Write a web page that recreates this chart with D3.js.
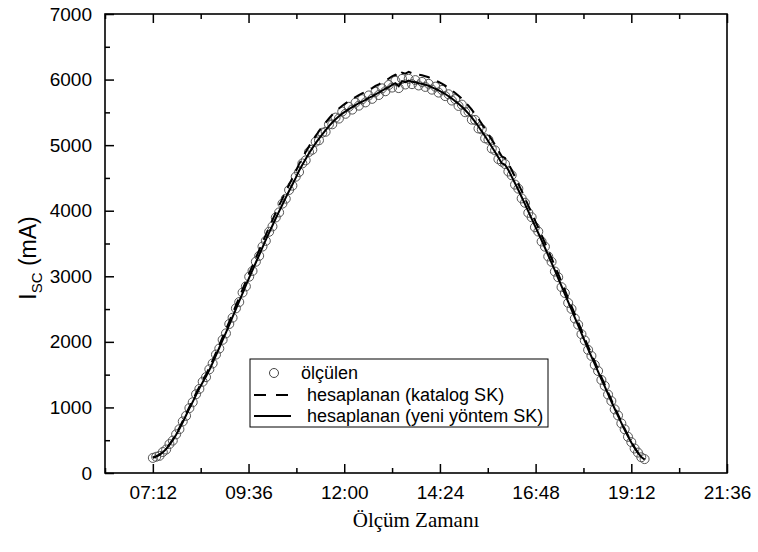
<!DOCTYPE html>
<html>
<head>
<meta charset="utf-8">
<script src="https://cdn.jsdelivr.net/npm/d3@7"></script>
<style>
  html, body { margin: 0; padding: 0; background: #fff; }
  svg { display: block; }
</style>
</head>
<body>
<svg id="chart" width="758" height="552"></svg>
<script>
// Sample times (HH:MM), one reading every 5 minutes
const times = [
  "07:12","07:17","07:22","07:27","07:32","07:37","07:42","07:47","07:52","07:57",
  "08:02","08:07","08:12","08:17","08:22","08:27","08:32","08:37","08:42","08:47","08:52","08:57",
  "09:02","09:07","09:12","09:17","09:22","09:27","09:32","09:37","09:42","09:47","09:52","09:57",
  "10:02","10:07","10:12","10:17","10:22","10:27","10:32","10:37","10:42","10:47","10:52","10:57",
  "11:02","11:07","11:12","11:17","11:22","11:27","11:32","11:37","11:42","11:47","11:52","11:57",
  "12:02","12:07","12:12","12:17","12:22","12:27","12:32","12:37","12:42","12:47","12:52","12:57",
  "13:02","13:07","13:12","13:17","13:22","13:27","13:32","13:37","13:42","13:47","13:52","13:57",
  "14:02","14:07","14:12","14:17","14:22","14:27","14:32","14:37","14:42","14:47","14:52","14:57",
  "15:02","15:07","15:12","15:17","15:22","15:27","15:32","15:37","15:42","15:47","15:52","15:57",
  "16:02","16:07","16:12","16:17","16:22","16:27","16:32","16:37","16:42","16:47","16:52","16:57",
  "17:02","17:07","17:12","17:17","17:22","17:27","17:32","17:37","17:42","17:47","17:52","17:57",
  "18:02","18:07","18:12","18:17","18:22","18:27","18:32","18:37","18:42","18:47","18:52","18:57",
  "19:02","19:07","19:12","19:17","19:22","19:27","19:32"
];

// Measured short-circuit current, mA
const measured = [
  230,248,262,320,358,441,494,590,668,786,
  872,990,1079,1201,1282,1392,1462,1581,1671,1806,1898,2031,
  2129,2272,2368,2511,2607,2752,2846,2994,3081,3222,3311,3453,
  3540,3679,3760,3897,3974,4108,4183,4316,4382,4518,4590,4721,
  4768,4896,4930,5052,5074,5190,5204,5316,5318,5420,5405,5512,
  5478,5585,5542,5648,5602,5700,5652,5758,5706,5812,5764,5866,
  5822,5918,5878,5980,5870,6010,5925,6012,5930,5992,5910,5964,
  5888,5935,5846,5892,5801,5842,5748,5776,5680,5702,5598,5618,
  5502,5512,5388,5384,5254,5240,5104,5082,4948,4920,4786,4748,
  4712,4598,4541,4398,4336,4188,4121,3968,3901,3748,3682,3530,
  3452,3302,3221,3072,2986,2834,2745,2594,2503,2356,2262,2117,
  2021,1878,1786,1648,1556,1419,1329,1196,1098,971,878,757,
  667,552,471,374,311,240,212
];

// Calculated with catalogue short-circuit coefficient, mA
const calcCatalog = [
  238,256,281,322,373,439,511,598,690,792,
  899,1007,1109,1216,1318,1415,1502,1605,1717,1834,1952,2070,
  2187,2310,2432,2555,2678,2800,2923,3046,3163,3281,3398,3516,
  3633,3746,3858,3970,4078,4185,4292,4395,4497,4599,4711,4803,
  4895,4982,5064,5141,5212,5279,5345,5406,5463,5514,5560,5601,
  5636,5672,5703,5733,5764,5790,5815,5846,5871,5902,5928,5958,
  5989,6014,6050,6076,6030,6106,6091,6117,6096,6091,6076,6066,
  6050,6035,6009,5989,5963,5938,5907,5871,5836,5795,5754,5708,
  5657,5601,5539,5473,5401,5325,5248,5166,5084,5003,4916,4829,
  4803,4722,4619,4517,4410,4303,4190,4078,3965,3853,3741,3628,
  3511,3393,3276,3158,3035,2913,2790,2667,2545,2422,2300,2177,
  2054,1932,1814,1697,1579,1461,1349,1232,1114,1002,889,782,
  675,572,475,388,312,250,210
];

// Calculated with the new-method short-circuit coefficient, mA
const calcNew = [
  233,250,275,315,365,430,500,585,675,775,
  880,985,1085,1190,1290,1385,1470,1570,1680,1795,1910,2025,
  2140,2260,2380,2500,2620,2740,2860,2980,3095,3210,3325,3440,
  3555,3665,3775,3885,3990,4095,4200,4300,4400,4500,4610,4700,
  4790,4875,4955,5030,5100,5165,5230,5290,5345,5395,5440,5480,
  5515,5550,5580,5610,5640,5665,5690,5720,5745,5775,5800,5830,
  5860,5885,5920,5945,5900,5975,5960,5985,5965,5960,5945,5935,
  5920,5905,5880,5860,5835,5810,5780,5745,5710,5670,5630,5585,
  5535,5480,5420,5355,5285,5210,5135,5055,4975,4895,4810,4725,
  4700,4620,4520,4420,4315,4210,4100,3990,3880,3770,3660,3550,
  3435,3320,3205,3090,2970,2850,2730,2610,2490,2370,2250,2130,
  2010,1890,1775,1660,1545,1430,1320,1205,1090,980,870,765,
  660,560,465,380,305,245,205
];

// Axis settings
const xDomain = ["06:00", "21:36"];
const xTickLabels = ["07:12", "09:36", "12:00", "14:24", "16:48", "19:12", "21:36"];
const xMinorTicks = ["06:00", "08:24", "10:48", "13:12", "15:36", "18:00", "20:24"];
const yTicks = [0, 1000, 2000, 3000, 4000, 5000, 6000, 7000];
const yMinorTicks = [500, 1500, 2500, 3500, 4500, 5500, 6500];

const legendItems = [
  { key: "measured", label: "ölçülen" },
  { key: "catalog", label: "hesaplanan (katalog SK)" },
  { key: "new", label: "hesaplanan (yeni yöntem SK)" }
];

const toMin = s => { const [h, m] = s.split(":").map(Number); return h * 60 + m; };

const svg = d3.select("#chart");
const plotLeft = 105, plotRight = 727, plotTop = 14, plotBottom = 473;

const x = d3.scaleLinear().domain(xDomain.map(toMin)).range([plotLeft, plotRight]);
const y = d3.scaleLinear().domain([0, 7000]).range([plotBottom, plotTop]);

const sans = "'Liberation Sans', Arial, sans-serif";
const serif = "'Liberation Serif', 'Times New Roman', serif";

// Axes with inward ticks
function styleAxis(g) {
  g.select(".domain").remove();
  g.selectAll(".tick line").attr("stroke", "#000").attr("stroke-width", 1.5);
  g.selectAll(".tick text").attr("font-family", sans).attr("font-size", 19).attr("fill", "#000");
}

svg.append("g").attr("transform", `translate(0,${plotBottom})`)
  .call(d3.axisBottom(x).tickValues(xTickLabels.map(toMin)).tickSizeInner(-9).tickSizeOuter(0)
    .tickPadding(13).tickFormat((d, i) => xTickLabels[i]))
  .call(styleAxis);
svg.append("g").attr("transform", `translate(0,${plotBottom})`)
  .call(d3.axisBottom(x).tickValues(xMinorTicks.map(toMin)).tickSizeInner(-5).tickSizeOuter(0).tickFormat(""))
  .call(styleAxis);
svg.append("g").attr("transform", `translate(0,${plotTop})`)
  .call(d3.axisTop(x).tickValues(xTickLabels.map(toMin)).tickSizeInner(-9).tickSizeOuter(0).tickFormat(""))
  .call(styleAxis);
svg.append("g").attr("transform", `translate(0,${plotTop})`)
  .call(d3.axisTop(x).tickValues(xMinorTicks.map(toMin)).tickSizeInner(-5).tickSizeOuter(0).tickFormat(""))
  .call(styleAxis);

svg.append("g").attr("transform", `translate(${plotLeft},0)`)
  .call(d3.axisLeft(y).tickValues(yTicks).tickSizeInner(-9).tickSizeOuter(0).tickPadding(13).tickFormat(d3.format("d")))
  .call(styleAxis);
svg.append("g").attr("transform", `translate(${plotLeft},0)`)
  .call(d3.axisLeft(y).tickValues(yMinorTicks).tickSizeInner(-5).tickSizeOuter(0).tickFormat(""))
  .call(styleAxis);

// Plot frame
svg.append("rect")
  .attr("x", plotLeft).attr("y", plotTop).attr("width", plotRight - plotLeft).attr("height", plotBottom - plotTop)
  .attr("fill", "none").attr("stroke", "#000").attr("stroke-width", 1.6);

// Series
const rows = times.map((t, i) => ({ t: toMin(t), m: measured[i], c: calcCatalog[i], n: calcNew[i] }));

const plot = svg.append("g");
plot.selectAll("circle.meas").data(rows).join("circle")
  .attr("class", "meas")
  .attr("cx", d => x(d.t)).attr("cy", d => y(d.m)).attr("r", 4.5)
  .attr("fill", "none").attr("stroke", "#555").attr("stroke-width", 1);

const lineCat = d3.line().x(d => x(d.t)).y(d => y(d.c));
const lineNew = d3.line().x(d => x(d.t)).y(d => y(d.n));

plot.append("path").datum(rows).attr("d", lineCat)
  .attr("fill", "none").attr("stroke", "#000").attr("stroke-width", 2)
  .attr("stroke-dasharray", "11,8");
plot.append("path").datum(rows).attr("d", lineNew)
  .attr("fill", "none").attr("stroke", "#000").attr("stroke-width", 2);

// Legend
const lg = svg.append("g").attr("transform", "translate(250,359)");
lg.append("rect").attr("width", 298).attr("height", 68)
  .attr("fill", "#fff").attr("stroke", "#000").attr("stroke-width", 1);
const rowY = [14, 36, 57];
legendItems.forEach((item, i) => {
  const g = lg.append("g").attr("transform", `translate(0,${rowY[i]})`);
  if (item.key === "measured") {
    g.append("circle").attr("cx", 24).attr("cy", 0).attr("r", 4.5)
      .attr("fill", "none").attr("stroke", "#444").attr("stroke-width", 1);
  } else {
    g.append("line").attr("x1", 4).attr("x2", 41).attr("y1", 0).attr("y2", 0)
      .attr("stroke", "#000").attr("stroke-width", 2)
      .attr("stroke-dasharray", item.key === "catalog" ? "12,10" : null);
  }
  g.append("text").attr("x", item.key === "measured" ? 51 : 57).attr("y", 0).attr("dy", "0.35em")
    .attr("font-family", sans).attr("font-size", 18).attr("fill", "#000").text(item.label);
});

// Axis titles
svg.append("text").attr("x", (plotLeft + plotRight) / 2).attr("y", 527)
  .attr("text-anchor", "middle").attr("font-family", serif).attr("font-size", 21)
  .text("Ölçüm Zamanı");

const yt = svg.append("text").attr("transform", "translate(36,258) rotate(-90)")
  .attr("text-anchor", "middle").attr("font-family", sans).attr("font-size", 23);
yt.append("tspan").text("I");
yt.append("tspan").attr("font-size", 15).attr("dy", 6).text("SC");
yt.append("tspan").attr("dy", -6).text(" (mA)");
</script>
</body>
</html>
